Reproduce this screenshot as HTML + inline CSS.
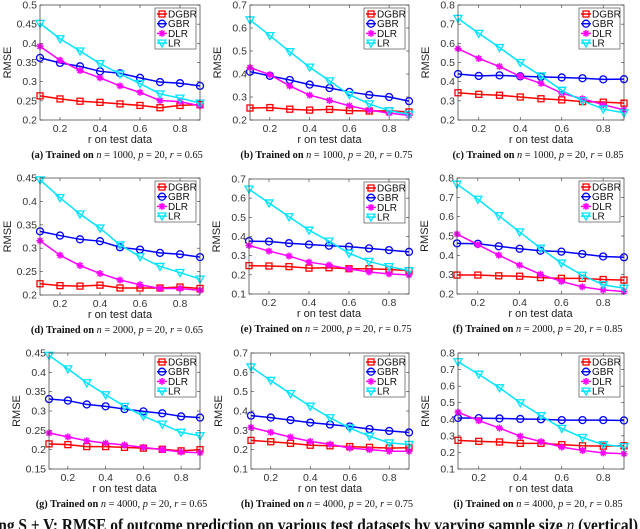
<!DOCTYPE html>
<html><head><meta charset="utf-8"><style>
body{margin:0;background:#fff;width:640px;height:529px;overflow:hidden}
svg{display:block}
text{font-family:"Liberation Sans",sans-serif}
.cap{font-family:"Liberation Serif",serif;font-size:10.3px;font-weight:bold}
.big{font-family:"Liberation Serif",serif;font-size:17.5px;font-weight:bold}
</style></head><body>
<svg id="fig" width="640" height="529" viewBox="0 0 640 529" xmlns="http://www.w3.org/2000/svg"></svg>
<script>
const xValues=[0.1,0.2,0.3,0.4,0.5,0.6,0.7,0.8,0.9];
const seriesNames=["DGBR","GBR","DLR","LR"];
const captions=["a","b","c","d","e","f","g","h","i"];
const nValues=[1000,1000,1000,2000,2000,2000,4000,4000,4000];
const rValues=["0.65","0.75","0.85","0.65","0.75","0.85","0.65","0.75","0.85"];
const yRanges=[[0.2,0.5,0.05],[0.2,0.7,0.1],[0.2,0.8,0.1],[0.2,0.45,0.05],[0.1,0.7,0.1],[0.2,0.8,0.1],[0.15,0.45,0.05],[0.1,0.7,0.1],[0.1,0.8,0.1]];
const dgbr=[
[.263,.255,.249,.246,.242,.238,.232,.238,.240],
[.252,.254,.247,.243,.246,.241,.239,.240,.235],
[.342,.334,.329,.320,.311,.305,.296,.293,.288],
[.224,.220,.219,.221,.215,.215,.215,.217,.214],
[.248,.246,.243,.235,.237,.232,.232,.228,.222],
[.298,.298,.294,.292,.285,.281,.281,.275,.272],
[.215,.213,.208,.208,.206,.204,.201,.197,.200],
[.248,.241,.233,.223,.220,.216,.212,.208,.210],
[.273,.267,.263,.255,.255,.247,.240,.238,.240]];
const gbr=[
[.362,.349,.340,.327,.322,.310,.299,.296,.289],
[.410,.392,.374,.354,.339,.322,.309,.300,.282],
[.440,.430,.433,.428,.425,.422,.418,.412,.413],
[.336,.327,.319,.315,.302,.297,.290,.287,.281],
[.376,.374,.365,.358,.352,.347,.338,.329,.320],
[.462,.460,.447,.434,.424,.419,.407,.394,.390],
[.331,.327,.317,.312,.305,.299,.294,.286,.283],
[.376,.366,.353,.340,.330,.320,.307,.297,.289],
[.408,.407,.405,.402,.400,.395,.395,.395,.393]];
const dlr=[
[.392,.356,.329,.310,.289,.272,.251,.248,.237],
[.428,.397,.348,.308,.285,.262,.243,.230,.220],
[.572,.521,.479,.428,.391,.340,.311,.280,.253],
[.316,.285,.263,.246,.232,.222,.214,.214,.210],
[.353,.324,.298,.266,.251,.231,.215,.205,.199],
[.510,.455,.401,.349,.302,.265,.237,.221,.213],
[.243,.233,.223,.217,.212,.206,.200,.194,.192],
[.315,.290,.265,.243,.228,.208,.200,.192,.192],
[.443,.392,.347,.298,.265,.232,.212,.197,.192]];
const lr=[
[.452,.412,.380,.347,.320,.295,.268,.257,.244],
[.635,.567,.497,.430,.370,.310,.270,.240,.225],
[.730,.652,.578,.500,.430,.355,.300,.257,.237],
[.446,.408,.373,.343,.307,.282,.261,.248,.234],
[.647,.575,.503,.433,.376,.313,.270,.243,.222],
[.768,.690,.605,.521,.437,.360,.297,.248,.230],
[.444,.409,.373,.342,.312,.287,.266,.245,.236],
[.628,.558,.490,.425,.365,.312,.270,.235,.227],
[.747,.672,.590,.500,.422,.345,.290,.247,.235]];
const xTicks=[0.2,0.4,0.6,0.8];

const NS="http://www.w3.org/2000/svg";
const svg=document.getElementById("fig");
function mk(tag,attrs,parent){const e=document.createElementNS(NS,tag);for(const k in attrs)e.setAttribute(k,attrs[k]);(parent||svg).appendChild(e);return e;}
const boxes=[[40,200,5,120],[250,409,5,120],[458,624,5,120],[40,200,178,295],[249,409,179,294],[457,624,178,294],[49,200,353,469],[251,409,353,469],[458,624,353,469]];
const colors=["#ff0000","#0000ff","#ff00ff","#00e5ff"];
function marker(g,type,x,y,c){
  if(type===0){mk("rect",{x:x-3,y:y-3,width:6,height:6,fill:"none",stroke:c,"stroke-width":1.3},g);}
  else if(type===1){mk("circle",{cx:x,cy:y,r:3.5,fill:"none",stroke:c,"stroke-width":1.3},g);}
  else if(type===2){mk("path",{d:`M${x-3.5} ${y}H${x+3.5}M${x} ${y-3.5}V${y+3.5}M${x-2.5} ${y-2.5}L${x+2.5} ${y+2.5}M${x-2.5} ${y+2.5}L${x+2.5} ${y-2.5}`,stroke:c,"stroke-width":1.5},g);}
  else {mk("path",{d:`M${x-4} ${y-3}H${x+4}L${x} ${y+4}Z`,fill:"none",stroke:c,"stroke-width":1.3},g);}
}
for(let i=0;i<9;i++){
  const [L,R,T,B]=boxes[i];const [y0,y1,st]=yRanges[i];
  const g=mk("g",{});
  
  
  const xs=v=>L+(v-0.1)/0.8*(R-L);
  const ys=v=>B-(v-y0)/(y1-y0)*(B-T);
  const nT=Math.round((y1-y0)/st);
  for(let k=0;k<=nT;k++){const v=y0+k*st;const y=ys(v);
    mk("line",{x1:L,x2:L+3,y1:y,y2:y,stroke:"#333","stroke-width":0.6},g);
    mk("line",{x1:R,x2:R-3,y1:y,y2:y,stroke:"#333","stroke-width":0.6},g);
    const t=mk("text",{x:L-3,y:y+3.5,"font-size":"10.5","text-anchor":"end",fill:"#333"},g);
    t.textContent=String(+v.toFixed(2));
  }
  xTicks.forEach(v=>{const x=xs(v);
    mk("line",{x1:x,x2:x,y1:B,y2:B-3,stroke:"#333","stroke-width":0.6},g);
    mk("line",{x1:x,x2:x,y1:T,y2:T+3,stroke:"#333","stroke-width":0.6},g);
    const t=mk("text",{x:x,y:B+12,"font-size":"10.5","text-anchor":"middle",fill:"#333"},g);t.textContent=String(v);
  });
  const xl=mk("text",{x:(L+R)/2,y:B+23,"font-size":"11","text-anchor":"middle",fill:"#222"},g);xl.textContent="r on test data";
  
  const yl=mk("text",{x:0,y:0,"font-size":"11","text-anchor":"middle",fill:"#222",transform:`translate(${L-29},${(T+B)/2}) rotate(-90)`},g);yl.textContent="RMSE";
  
  const all=[dgbr[i],gbr[i],dlr[i],lr[i]];
  all.forEach((arr,s)=>{
    const pts=arr.map((v,j)=>xs(xValues[j])+","+ys(v)).join(" ");
    const pl=mk("polyline",{points:pts,fill:"none",stroke:colors[s],"stroke-width":1.5},g);
    
    arr.forEach((v,j)=>marker(g,s,xs(xValues[j]),ys(v),colors[s]));
  });
  mk("rect",{x:L,y:T,width:R-L,height:B-T,fill:"none",stroke:"#333","stroke-width":0.7},g);
  const lg=mk("g",{},g);
  
  
  const lw=41,lh=41,lx=R-lw-4,ly=T+3;
  mk("rect",{x:lx,y:ly,width:lw,height:lh,fill:"#fff",stroke:"#333","stroke-width":0.6},lg);
  seriesNames.forEach((nm,s)=>{const yy=ly+6+s*9.7;
    mk("line",{x1:lx+2,x2:lx+12,y1:yy,y2:yy,stroke:colors[s],"stroke-width":1.5},lg);
    marker(lg,s,lx+7,yy,colors[s]);
    const t=mk("text",{x:lx+13,y:yy+3.5,"font-size":"10",fill:"#111"},lg);t.textContent=nm;
  });
  const c=mk("text",{x:(L+R)/2-3,y:B+38,"text-anchor":"middle",class:"cap",fill:"#111"},g);
  
  c.innerHTML=`(${captions[i]}) Trained on <tspan font-style="italic" font-weight="normal">n</tspan> <tspan font-weight="normal">= ${nValues[i]},</tspan> <tspan font-style="italic" font-weight="normal">p</tspan> <tspan font-weight="normal">= 20,</tspan> <tspan font-style="italic" font-weight="normal">r</tspan> <tspan font-weight="normal">= ${rValues[i]}</tspan>`;
}
const ft=mk("text",{x:-6,y:531,class:"big",fill:"#111",textLength:"644",lengthAdjust:"spacingAndGlyphs"});


ft.innerHTML='ing S + V: RMSE of outcome prediction on various test datasets by varying sample size <tspan font-style="italic" font-weight="normal">n</tspan> (vertical)';
</script>
</body></html>
